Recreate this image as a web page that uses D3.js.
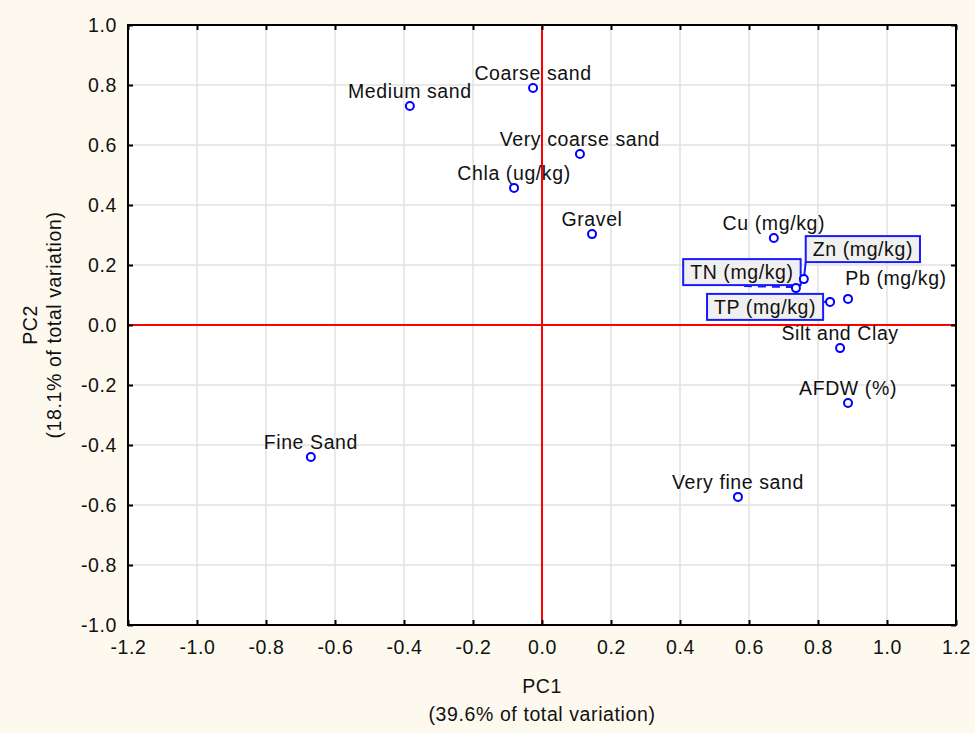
<!DOCTYPE html>
<html>
<head>
<meta charset="utf-8">
<script src="https://cdn.jsdelivr.net/npm/d3@7"></script>
<style>
  html, body { margin: 0; padding: 0; background: #fdf9ef; }
  svg { display: block; }
  text { font-family: "Liberation Sans", Arial, sans-serif; fill: #111; }
</style>
</head>
<body>
<script>
// PCA loadings: variable names and their scores on the first two components
const variables = ["Medium sand", "Coarse sand", "Very coarse sand", "Chla (ug/kg)", "Gravel",
  "Cu (mg/kg)", "Zn (mg/kg)", "TN (mg/kg)", "TP (mg/kg)", "Pb (mg/kg)",
  "Silt and Clay", "AFDW (%)", "Very fine sand", "Fine Sand"];
const pc1 = [-0.383, -0.026, 0.110, -0.081, 0.145, 0.672, 0.759, 0.736, 0.835, 0.887, 0.864, 0.887, 0.568, -0.670];
const pc2 = [0.730, 0.790, 0.570, 0.457, 0.303, 0.290, 0.153, 0.123, 0.077, 0.087, -0.077, -0.260, -0.573, -0.440];

const xTicks = [-1.2, -1.0, -0.8, -0.6, -0.4, -0.2, 0.0, 0.2, 0.4, 0.6, 0.8, 1.0, 1.2];
const yTicks = [-1.0, -0.8, -0.6, -0.4, -0.2, 0.0, 0.2, 0.4, 0.6, 0.8, 1.0];

const xTitle = ["PC1", "(39.6% of total variation)"];
const yTitle = ["PC2", "(18.1% of total variation)"];

const W = 975, H = 733;
const margin = { left: 128, right: W - 956, top: 25, bottom: H - 625 };

const svg = d3.select("body").append("svg").attr("width", W).attr("height", H);
svg.append("rect").attr("width", W).attr("height", H).attr("fill", "#fdf9ef");

const x = d3.scaleLinear().domain([-1.2, 1.2]).range([margin.left, W - margin.right]);
const y = d3.scaleLinear().domain([-1.0, 1.0]).range([H - margin.bottom, margin.top]);

// plain hyphen for negatives
const fmt = d => d3.format(".1f")(d).replace("\u2212", "-");
const FS = "19.5px", LS = "0.6px";

// plot area
svg.append("rect")
  .attr("x", x(-1.2)).attr("y", y(1.0))
  .attr("width", x(1.2) - x(-1.2)).attr("height", y(-1.0) - y(1.0))
  .attr("fill", "#ffffff");

// grid lines
const grid = svg.append("g").attr("stroke", "#e2e2e2").attr("stroke-width", 1.5);
grid.selectAll("line.gx").data(xTicks.slice(1, -1)).join("line")
  .attr("x1", d => x(d)).attr("x2", d => x(d))
  .attr("y1", y(1.0)).attr("y2", y(-1.0));
grid.selectAll("line.gy").data(yTicks.slice(1, -1)).join("line")
  .attr("y1", d => y(d)).attr("y2", d => y(d))
  .attr("x1", x(-1.2)).attr("x2", x(1.2));

// zero reference lines
svg.append("line").attr("x1", x(0)).attr("x2", x(0)).attr("y1", y(1.0)).attr("y2", y(-1.0))
  .attr("stroke", "#ff0000").attr("stroke-width", 2);
svg.append("line").attr("x1", x(-1.2)).attr("x2", x(1.2)).attr("y1", y(0)).attr("y2", y(0))
  .attr("stroke", "#ff0000").attr("stroke-width", 2);

// axes with inward ticks on all four sides
function styleAxis(g, showLabels) {
  g.select(".domain").remove();
  g.selectAll(".tick line").attr("stroke", "#000").attr("stroke-width", 2);
  g.selectAll(".tick text")
    .style("font-size", FS)
    .style("letter-spacing", LS)
    .attr("fill", "#111");
  if (!showLabels) g.selectAll(".tick text").remove();
}
const axBottom = svg.append("g").attr("transform", `translate(0,${y(-1.0)})`)
  .call(d3.axisBottom(x).tickValues(xTicks).tickFormat(fmt).tickSize(-5).tickPadding(15));
styleAxis(axBottom, true);
const axTop = svg.append("g").attr("transform", `translate(0,${y(1.0)})`)
  .call(d3.axisTop(x).tickValues(xTicks).tickSize(-5));
styleAxis(axTop, false);
const axLeft = svg.append("g").attr("transform", `translate(${x(-1.2)},0)`)
  .call(d3.axisLeft(y).tickValues(yTicks).tickFormat(fmt).tickSize(-5).tickPadding(11));
styleAxis(axLeft, true);
const axRight = svg.append("g").attr("transform", `translate(${x(1.2)},0)`)
  .call(d3.axisRight(y).tickValues(yTicks).tickSize(-5));
styleAxis(axRight, false);

// frame
svg.append("rect")
  .attr("x", x(-1.2)).attr("y", y(1.0))
  .attr("width", x(1.2) - x(-1.2)).attr("height", y(-1.0) - y(1.0))
  .attr("fill", "none").attr("stroke", "#000").attr("stroke-width", 2);

// axis titles
const cx = (x(-1.2) + x(1.2)) / 2;
const cy = (y(1.0) + y(-1.0)) / 2;
function title(sel) { return sel.attr("text-anchor", "middle").style("font-size", FS).style("letter-spacing", LS); }
title(svg.append("text").attr("x", cx).attr("y", 693)).text(xTitle[0]);
title(svg.append("text").attr("x", cx).attr("y", 721)).text(xTitle[1]);
title(svg.append("text").attr("transform", `translate(37,${cy}) rotate(-90)`)).text(yTitle[0]);
title(svg.append("text").attr("transform", `translate(61,${cy}) rotate(-90)`)).text(yTitle[1]);

// points
const pts = variables.map((name, i) => ({ name, px: x(pc1[i]), py: y(pc2[i]) }));

// label placement: default centred above the point; a few are shifted or boxed
const shifted = { "Pb (mg/kg)": [48, -14] };
const boxed = { "Zn (mg/kg)": [59, -30], "TN (mg/kg)": [-54, -16], "TP (mg/kg)": [-65, 5] };

const labelLayer = svg.append("g");
const boxLayer = svg.append("g");

pts.forEach(p => {
  if (boxed[p.name]) return;
  const off = shifted[p.name] || [0, -8];
  labelLayer.append("text")
    .attr("x", p.px + off[0]).attr("y", p.py + off[1])
    .attr("text-anchor", "middle")
    .style("font-size", FS).style("letter-spacing", LS)
    .text(p.name);
});

// dashed leader under the TN box
const tn = pts.find(p => p.name === "TN (mg/kg)");
svg.append("line")
  .attr("x1", tn.px - 52).attr("y1", tn.py - 2).attr("x2", tn.px - 4).attr("y2", tn.py - 1)
  .attr("stroke", "#1a1aff").attr("stroke-width", 2).attr("stroke-dasharray", "8,6");

pts.forEach(p => {
  const off = boxed[p.name];
  if (!off) return;
  const bx = p.px + off[0], by = p.py + off[1];
  const g = boxLayer.append("g");
  const rect = g.append("rect");
  const t = g.append("text")
    .attr("x", bx).attr("y", by + 7)
    .attr("text-anchor", "middle")
    .style("font-size", FS).style("letter-spacing", LS)
    .text(p.name);
  const w = t.node().getComputedTextLength() + 14;
  const h = 26;
  rect.attr("x", bx - w / 2).attr("y", by - h / 2).attr("width", w).attr("height", h)
    .attr("fill", "#f0f0f0").attr("stroke", "#1a1aff").attr("stroke-width", 2);
  // leader from nearest box edge to the point
  const lx = Math.max(bx - w / 2, Math.min(p.px, bx + w / 2));
  const ly = Math.max(by - h / 2, Math.min(p.py, by + h / 2));
  g.insert("line", "rect")
    .attr("x1", lx).attr("y1", ly).attr("x2", p.px).attr("y2", p.py)
    .attr("stroke", "#1a1aff").attr("stroke-width", 2);
});

svg.append("g").selectAll("circle").data(pts).join("circle")
  .attr("cx", d => d.px).attr("cy", d => d.py).attr("r", 4)
  .attr("fill", "#ffffff").attr("stroke", "#0000ff").attr("stroke-width", 2);
</script>
</body>
</html>
